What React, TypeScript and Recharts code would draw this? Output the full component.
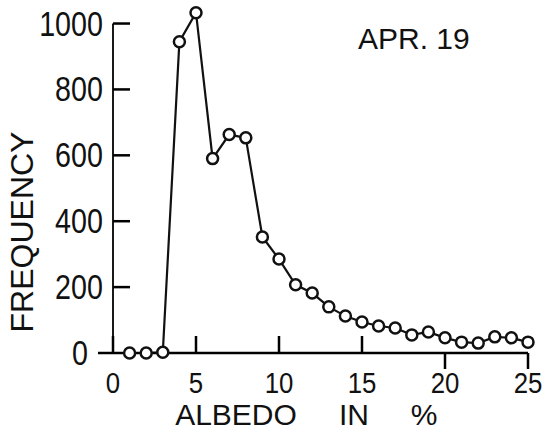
import React from "react";
import { LineChart, Line, XAxis, YAxis, ReferenceLine } from "recharts";

// albedo classes (%) and their frequencies
const albedo = [1, 2, 3, 4, 5, 6, 7, 8, 9, 10, 11, 12, 13, 14, 15, 16, 17, 18, 19, 20, 21, 22, 23, 24, 25];
const frequency = [0, 0, 2, 945, 1033, 590, 663, 653, 352, 285, 207, 182, 140, 112, 94, 82, 76, 55, 64, 46, 33, 30, 49, 46, 33];

const xTicks = [0, 5, 10, 15, 20, 25];
const yTicks = [0, 200, 400, 600, 800, 1000];
// in the original these two ticks hang below the axis instead of pointing up
const xTicksBelow = [20, 25];

const dateLabel = "APR. 19";
const xTitle = ["ALBEDO", "IN", "%"];
const yTitle = "FREQUENCY";

const data = albedo.map((a, i) => ({ albedo: a, frequency: frequency[i] }));

const INK = "#111";
const AXIS = "black";
const FONT = "'Liberation Sans', Arial, sans-serif";
const TICK_W = 2.5;

function XTick(props: any) {
  const { x, y, payload } = props;
  const below = xTicksBelow.includes(payload.value);
  return (
    <g>
      <rect x={x - TICK_W / 2} y={below ? y : y - 17} width={TICK_W} height={below ? 16 : 17} fill={AXIS} />
      <text
        transform={`translate(${x} ${y + 40}) scale(0.86 1)`}
        textAnchor="middle"
        fontSize={30}
        fontFamily={FONT}
        fill={INK}
      >
        {payload.value}
      </text>
    </g>
  );
}

function YTick(props: any) {
  const { x, y, payload } = props;
  const isZero = payload.value === 0;
  return (
    <g>
      <rect x={isZero ? x - 15 : x} y={y - TICK_W / 2} width={isZero ? 15 : 17} height={TICK_W} fill={AXIS} />
      <text
        transform={`translate(${isZero ? x - 25 : x - 10} ${y + 12}) scale(0.82 1)`}
        textAnchor="end"
        fontSize={35}
        fontFamily={FONT}
        fill={INK}
      >
        {payload.value}
      </text>
    </g>
  );
}

export default function App() {
  return (
    <div style={{ position: "absolute", left: 0, top: 0, width: 545, height: 438, background: "#fff" }}>
      <LineChart width={545} height={438} data={data} margin={{ top: 12, right: 17, bottom: 84, left: 112 }}>
        <XAxis
          dataKey="albedo"
          type="number"
          domain={[0, 25]}
          ticks={xTicks}
          interval={0}
          height={1}
          tickSize={0}
          tickMargin={0}
          tickLine={false}
          axisLine={{ stroke: AXIS, strokeWidth: 2.5 }}
          tick={<XTick />}
        />
        <YAxis
          type="number"
          domain={[0, 1035]}
          ticks={yTicks}
          interval={0}
          width={1}
          tickSize={0}
          tickMargin={0}
          tickLine={false}
          axisLine={false}
          tick={<YTick />}
        />
        {/* the vertical axis only runs up to the 1000 tick */}
        <ReferenceLine segment={[{ x: 0, y: 0 }, { x: 0, y: 1000 }]} stroke={AXIS} strokeWidth={1.8} />
        <Line
          dataKey="frequency"
          stroke={INK}
          strokeWidth={2.2}
          type="linear"
          dot={{ r: 5.5, stroke: INK, strokeWidth: 2.5, fill: "#fff" }}
          isAnimationActive={false}
        />
      </LineChart>
      {/* titles drawn in an overlay above the chart */}
      <svg width={545} height={438} style={{ position: "absolute", left: 0, top: 0, pointerEvents: "none" }}>
        <g fontFamily={FONT} fill={INK}>
          <text x={33} y={232} transform="rotate(-90 33 232)" textAnchor="middle" fontSize={32}>
            {yTitle}
          </text>
          <text x={358} y={49} fontSize={30}>
            {dateLabel}
          </text>
          <text x={236} y={425} textAnchor="middle" fontSize={30}>
            {xTitle[0]}
          </text>
          <text x={354} y={425} textAnchor="middle" fontSize={30}>
            {xTitle[1]}
          </text>
          <text x={424} y={425} textAnchor="middle" fontSize={30}>
            {xTitle[2]}
          </text>
        </g>
      </svg>
    </div>
  );
}
